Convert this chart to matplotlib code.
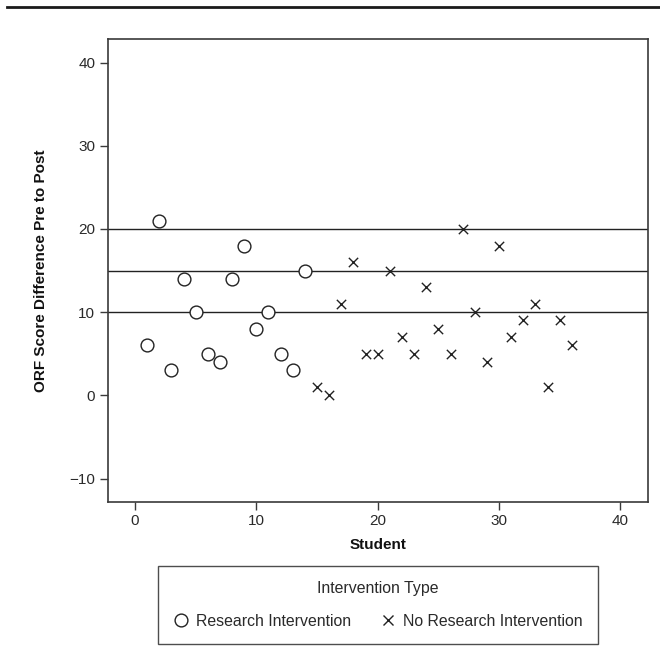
import matplotlib
matplotlib.use("Agg")
import matplotlib.pyplot as plt
from matplotlib.lines import Line2D

plt.rcParams['font.family'] = ['Liberation Sans', 'DejaVu Sans']

# Data
research_students = [1, 2, 3, 4, 5, 6, 7, 8, 9, 10, 11, 12, 13, 14]
research_scores = [6, 21, 3, 14, 10, 5, 4, 14, 18, 8, 10, 5, 3, 15]
noresearch_students = [15, 16, 17, 18, 19, 20, 21, 22, 23, 24, 25, 26, 27, 28, 29, 30, 31, 32, 33, 34, 35, 36]
noresearch_scores = [1, 0, 11, 16, 5, 5, 15, 7, 5, 13, 8, 5, 20, 10, 4, 18, 7, 9, 11, 1, 9, 6]
reference_lines = [10, 15, 20]
x_ticks = [0, 10, 20, 30, 40]
y_ticks = [-10, 0, 10, 20, 30, 40]

W, H = 660, 671
fig = plt.figure(figsize=(W / 100, H / 100), dpi=100)
ax = fig.add_axes([107.7 / W, 1 - 501.5 / H, (647.7 - 107.7) / W, (501.5 - 39.3) / H])

spine_col = '#3a3a3a'
text_col = '#2a2a2a'
FS = 11
LFS = 11.4

for y in reference_lines:
    ax.axhline(y, color='#222222', lw=1.0, zorder=1)

ax.scatter(research_students, research_scores, marker='o', s=85, facecolors='white',
           edgecolors='#222222', linewidths=1.0, zorder=3)
ax.scatter(noresearch_students, noresearch_scores, marker='x', s=45, color='#222222',
           linewidths=1.0, zorder=3)

ax.set_xlim(-2.25, 42.25)
ax.set_ylim(-12.76, 42.8)
ax.set_xticks(x_ticks)
ax.set_yticks(y_ticks)
ax.set_yticklabels([('\u2212' + str(-t)) if t < 0 else str(t) for t in y_ticks])
for s in ax.spines.values():
    s.set_color(spine_col)
    s.set_linewidth(1.2)
ax.tick_params(axis='both', direction='out', length=5.5, width=1.0, color=spine_col,
               labelsize=FS, labelcolor=text_col, pad=3.5)

ax.set_xlabel('Student', fontsize=FS, fontweight='bold', color='#111111')
ax.set_ylabel('ORF Score Difference Pre to Post', fontsize=FS, fontweight='bold',
              color='#111111')
ax.xaxis.set_label_coords(0.5, -0.079)
ax.yaxis.set_label_coords(-0.1106, 0.5)

# Top rule
fig.add_artist(Line2D([7 / W, 1.0], [1 - 7.3 / H, 1 - 7.3 / H], transform=fig.transFigure,
                      color='#1a1a1a', lw=2.0))

handles = [
    Line2D([], [], marker='o', linestyle='none', markersize=9.2, markerfacecolor='white',
           markeredgecolor='#222222', markeredgewidth=1.0),
    Line2D([], [], marker='x', linestyle='none', markersize=6.8, color='#222222',
           markeredgewidth=1.0),
]
leg = fig.legend(handles, ['Research Intervention', 'No Research Intervention'],
                 title='Intervention Type', ncol=2, loc='center',
                 bbox_to_anchor=(378 / W, 1 - 605 / H), frameon=True, fancybox=False,
                 fontsize=LFS, title_fontsize=LFS, handletextpad=0.5, columnspacing=1.9,
                 handlelength=0.9, borderpad=0.95, labelspacing=0.5, borderaxespad=0)
leg.get_frame().set_edgecolor('#222222')
leg.get_frame().set_linewidth(1.0)
leg.get_title().set_color(text_col)
for t in leg.get_texts():
    t.set_color(text_col)
leg._legend_box.sep = 13

fig.savefig('out.png', dpi=100)
